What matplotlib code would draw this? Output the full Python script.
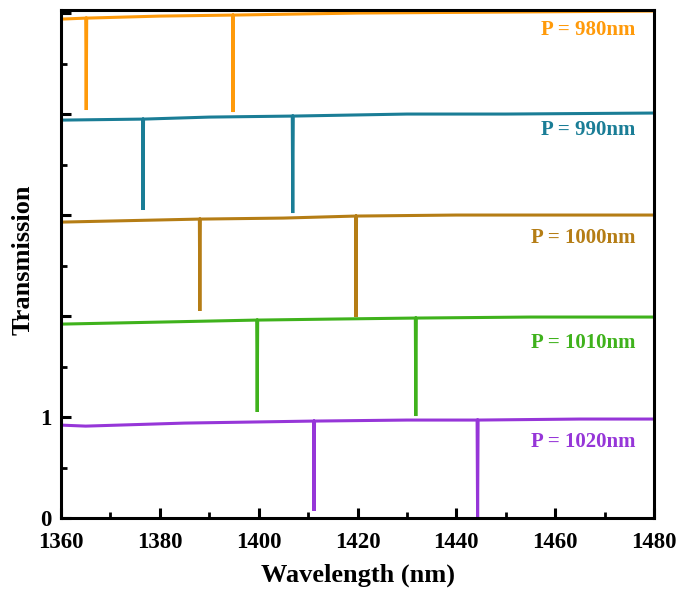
import matplotlib
matplotlib.use("Agg")
import matplotlib.pyplot as plt
from matplotlib.ticker import MultipleLocator

plt.rcParams['font.family'] = ['Liberation Serif', 'DejaVu Serif']
plt.rcParams['font.weight'] = 'bold'

# Data: (wavelength nm, transmission with vertical offsets)
wl_980 = [1360, 1365.0, 1365.1, 1365.2, 1380, 1394.7, 1394.8, 1394.9, 1420, 1450, 1480]
t_980 = [4.94, 4.95, 4.04, 4.95, 4.97, 4.98, 4.02, 4.98, 5.0, 5.01, 5.02]

wl_990 = [1360, 1376.5, 1376.6, 1376.7, 1390, 1406.8, 1406.9, 1407.0, 1430, 1450, 1480]
t_990 = [3.94, 3.95, 3.05, 3.95, 3.97, 3.98, 3.02, 3.98, 4.0, 4.0, 4.01]

wl_1000 = [1360, 1388.0, 1388.1, 1388.2, 1405, 1419.6, 1419.7, 1419.8, 1440, 1460, 1480]
t_1000 = [2.93, 2.96, 2.05, 2.96, 2.97, 2.99, 1.99, 2.99, 3.0, 3.0, 3.0]

wl_1010 = [1360, 1380, 1399.6, 1399.7, 1399.8, 1415, 1431.7, 1431.8, 1431.9, 1455, 1480]
t_1010 = [1.92, 1.94, 1.96, 1.05, 1.96, 1.97, 1.98, 1.01, 1.98, 1.99, 1.99]

wl_1020 = [1360, 1365, 1385, 1411.1, 1411.2, 1411.3, 1430, 1444.2, 1444.3, 1444.4, 1465, 1480]
t_1020 = [0.92, 0.91, 0.94, 0.96, 0.07, 0.96, 0.97, 0.97, 0.0, 0.97, 0.98, 0.98]

labels = ["P = 980nm", "P = 990nm", "P = 1000nm", "P = 1010nm", "P = 1020nm"]
label_y = [4.83, 3.84, 2.77, 1.73, 0.75]
colors = ["#ff9a0a", "#1a7d96", "#b57d15", "#3fb21c", "#9636d8"]

series = [(wl_980, t_980), (wl_990, t_990), (wl_1000, t_1000), (wl_1010, t_1010), (wl_1020, t_1020)]

fig = plt.figure(figsize=(6.94, 5.90), dpi=100)
ax = fig.add_axes([0.0879, 0.122, 0.8545, 0.861])

for (x, y), c, lab, ly in zip(series, colors, labels, label_y):
    ax.plot(x, y, color=c, lw=2.2, solid_joinstyle='miter')
    ax.text(1476.3, ly, lab, color=c, ha='right', va='center', fontsize=15, fontweight='bold')

ax.set_xlim(1360, 1480)
ax.set_ylim(0, 5.03)
ax.xaxis.set_major_locator(MultipleLocator(20))
ax.xaxis.set_minor_locator(MultipleLocator(10))
ax.yaxis.set_minor_locator(MultipleLocator(0.5))
ax.set_yticks([0, 1, 2, 3, 4, 5])
ax.set_yticklabels(["0", "1", "", "", "", ""])

for s in ax.spines.values():
    s.set_linewidth(2.2)
ax.tick_params(which='major', direction='in', length=7, width=2.2, labelsize=16.5)
ax.tick_params(axis='x', which='major', pad=10)
ax.tick_params(axis='y', which='major', pad=7)
ax.tick_params(which='minor', direction='in', length=4, width=2.0)
for lbl in ax.get_xticklabels() + ax.get_yticklabels():
    lbl.set_fontweight('bold')

ax.set_xlabel("Wavelength (nm)", fontsize=19, fontweight='bold', labelpad=8)
ax.set_ylabel("Transmission", fontsize=19, fontweight='bold')
ax.yaxis.set_label_coords(-0.044, 0.508)

fig.savefig("out.png", dpi=100)
